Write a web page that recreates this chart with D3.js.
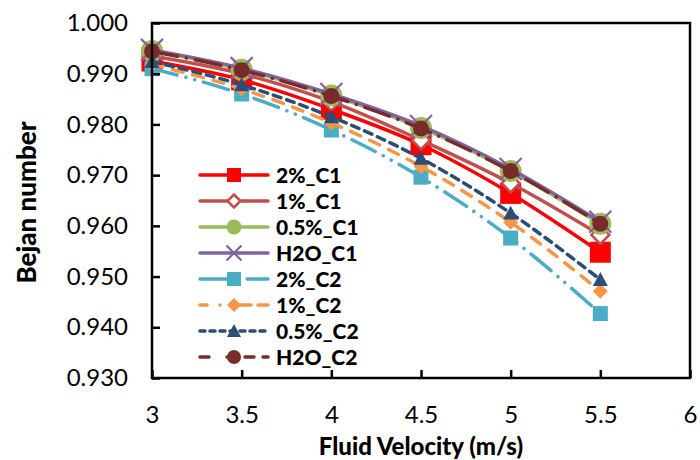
<!DOCTYPE html>
<html>
<head>
<meta charset="utf-8">
<script src="https://cdn.jsdelivr.net/npm/d3@7"></script>
<style>
  body { margin: 0; background: #fff; }
  svg { font-family: Lato, "Open Sans", sans-serif; }
</style>
</head>
<body>
<div id="chart"></div>
<script>
// velocities on the x axis
const velocity = [3, 3.5, 4, 4.5, 5, 5.5];
const xTicks = [3, 3.5, 4, 4.5, 5, 5.5, 6];
const yTicks = [0.93, 0.94, 0.95, 0.96, 0.97, 0.98, 0.99, 1.0];

// Bejan number per series
const seriesNames = ["2%_C1", "1%_C1", "0.5%_C1", "H2O_C1", "2%_C2", "1%_C2", "0.5%_C2", "H2O_C2"];
const be2C1   = [0.9925, 0.9888, 0.9830, 0.9760, 0.9664, 0.9548];
const be1C1   = [0.9935, 0.9900, 0.9845, 0.9769, 0.9684, 0.9582];
const be05C1  = [0.9945, 0.9908, 0.9857, 0.9793, 0.9708, 0.9604];
const beH2OC1 = [0.9947, 0.9911, 0.9860, 0.9797, 0.9712, 0.9608];
const be2C2   = [0.9910, 0.9860, 0.9789, 0.9696, 0.9576, 0.9427];
const be1C2   = [0.9918, 0.9870, 0.9803, 0.9717, 0.9607, 0.9471];
const be05C2  = [0.9924, 0.9878, 0.9815, 0.9733, 0.9625, 0.9494];
const beH2OC2 = [0.9944, 0.9907, 0.9856, 0.9792, 0.9708, 0.9604];

(function bejan(){
    let width = 700,
    height = 460,
    margin = ({ top: 23, right: 10, bottom: 82, left: 152 });

    const svg = d3.select("#chart")
        .append("svg")
        .attr("width", width)
        .attr("height", height)
        .attr("viewBox", [0, 0, width, height]);

    const x = d3.scaleLinear().domain([3, 6]).range([margin.left, width - margin.right]);
    const y = d3.scaleLinear().domain([0.93, 1.0]).range([height - margin.bottom, margin.top]);

    // style for each series: colour, dash, marker shape, marker size (plot / legend)
    const styles = [
        { color: "#FF0000", dash: null, shape: "square", fill: "#FF0000", size: 21, lsize: 14 },
        { color: "#C0504D", dash: null, shape: "diamond", fill: "#fff", size: 18, lsize: 13 },
        { color: "#9BBB59", dash: null, shape: "circle", fill: "#9BBB59", size: 22, lsize: 15 },
        { color: "#8064A2", dash: null, shape: "cross", fill: "none", size: 22, lsize: 15 },
        { color: "#4BACC6", dash: "26,9,0.1,9,0.1,9", shape: "square", fill: "#4BACC6", size: 15, lsize: 14 },
        { color: "#F79646", dash: "11,10", shape: "diamond", fill: "#F79646", size: 15, lsize: 14 },
        { color: "#2C4D75", dash: "8,6", shape: "triangle", fill: "#2C4D75", size: 15, lsize: 14 },
        { color: "#772C2A", dash: "26,9,0.1,9", shape: "circle", fill: "#772C2A", size: 16, lsize: 14 }
    ];
    const values = [be2C1, be1C1, be05C1, beH2OC1, be2C2, be1C2, be05C2, beH2OC2];
    const series = seriesNames.map((name, i) => ({
        name: name,
        style: styles[i],
        points: velocity.map((v, j) => ({ x: v, y: values[i][j] }))
    }));

    function drawMarker(g, st, s) {
        const h = s / 2;
        if (st.shape === "square") {
            g.append("rect").attr("x", -h).attr("y", -h).attr("width", s).attr("height", s)
                .attr("fill", st.fill);
        } else if (st.shape === "diamond") {
            g.append("path").attr("d", `M0,${-h}L${h},0L0,${h}L${-h},0Z`)
                .attr("fill", st.fill).attr("stroke", st.color)
                .attr("stroke-width", st.fill === "#fff" ? 2.5 : 0);
        } else if (st.shape === "circle") {
            g.append("circle").attr("r", h).attr("fill", st.fill);
        } else if (st.shape === "triangle") {
            g.append("path").attr("d", `M0,${-h}L${h},${h * 0.85}L${-h},${h * 0.85}Z`)
                .attr("fill", st.fill);
        } else if (st.shape === "cross") {
            g.append("path").attr("d", `M${-h},${-h}L${h},${h}M${h},${-h}L${-h},${h}`)
                .attr("stroke", st.color).attr("stroke-width", 2.2).attr("fill", "none");
        }
    }

    const line = d3.line().x(d => x(d.x)).y(d => y(d.y)).curve(d3.curveMonotoneX);

    // series lines and markers
    series.forEach(s => {
        const g = svg.append("g");
        g.append("path")
            .datum(s.points)
            .attr("d", line)
            .attr("fill", "none")
            .attr("stroke", s.style.color)
            .attr("stroke-width", 3.5)
            .attr("stroke-linecap", s.style.dash ? "round" : "butt")
            .attr("stroke-dasharray", s.style.dash);
        g.selectAll("g.mk")
            .data(s.points)
            .join("g")
            .attr("class", "mk")
            .attr("transform", d => `translate(${x(d.x)},${y(d.y)})`)
            .each(function(){ drawMarker(d3.select(this), s.style, s.style.size); });
    });

    // axes with ticks pointing inward
    const xAxis = svg.append("g")
        .attr("transform", `translate(0,${y(0.93)})`)
        .call(d3.axisBottom(x).tickValues(xTicks).tickSize(-8).tickPadding(28).tickFormat(d => String(d)));
    const yAxis = svg.append("g")
        .attr("transform", `translate(${x(3)},0)`)
        .call(d3.axisLeft(y).tickValues(yTicks).tickSize(-8).tickPadding(24).tickFormat(d3.format(".3f")));
    [xAxis, yAxis].forEach(a => {
        a.select(".domain").remove();
        a.selectAll(".tick line").attr("stroke", "#000").attr("stroke-width", 2.5);
        a.selectAll(".tick text").attr("fill", "#000").style("font-size", "24px").style("font-family", "Lato, sans-serif");
    });

    // plot frame
    svg.append("rect")
        .attr("x", x(3)).attr("y", y(1.0))
        .attr("width", x(6) - x(3)).attr("height", y(0.93) - y(1.0))
        .attr("fill", "none").attr("stroke", "#000").attr("stroke-width", 2.5);

    // axis titles
    svg.append("text")
        .attr("x", (x(3) + x(6)) / 2).attr("y", 455)
        .attr("text-anchor", "middle")
        .style("font-size", "24px").style("font-weight", 900)
        .text("Fluid Velocity (m/s)");
    svg.append("text")
        .attr("transform", `translate(36,${(y(0.93) + y(1.0)) / 2 + 2}) rotate(-90)`)
        .attr("text-anchor", "middle")
        .style("font-size", "26px").style("font-weight", 900)
        .text("Bejan number");

    // legend
    const legend = svg.append("g").attr("transform", "translate(198,175)");
    const rows = legend.selectAll("g.row")
        .data(series)
        .join("g")
        .attr("class", "row")
        .attr("transform", (d, i) => `translate(0,${i * 26})`);
    rows.append("line")
        .attr("x1", 2).attr("x2", 70)
        .attr("stroke", d => d.style.color)
        .attr("stroke-width", 3.5)
        .attr("stroke-linecap", "round")
        .attr("stroke-dasharray", (d, i) => i === 4 ? "30,8,0.1,9" : i === 5 ? "7,13,0,18,13" : i === 6 ? "5,5" : i === 7 ? "9,18,0,18,9" : null);
    rows.append("g")
        .attr("transform", "translate(36,0)")
        .each(function(d){ drawMarker(d3.select(this), d.style, d.style.lsize); });
    rows.append("text")
        .attr("x", 78).attr("y", 0)
        .attr("dy", "0.36em")
        .style("font-size", "21px").style("font-weight", 900)
        .text(d => d.name);
})();
</script>
</body>
</html>
